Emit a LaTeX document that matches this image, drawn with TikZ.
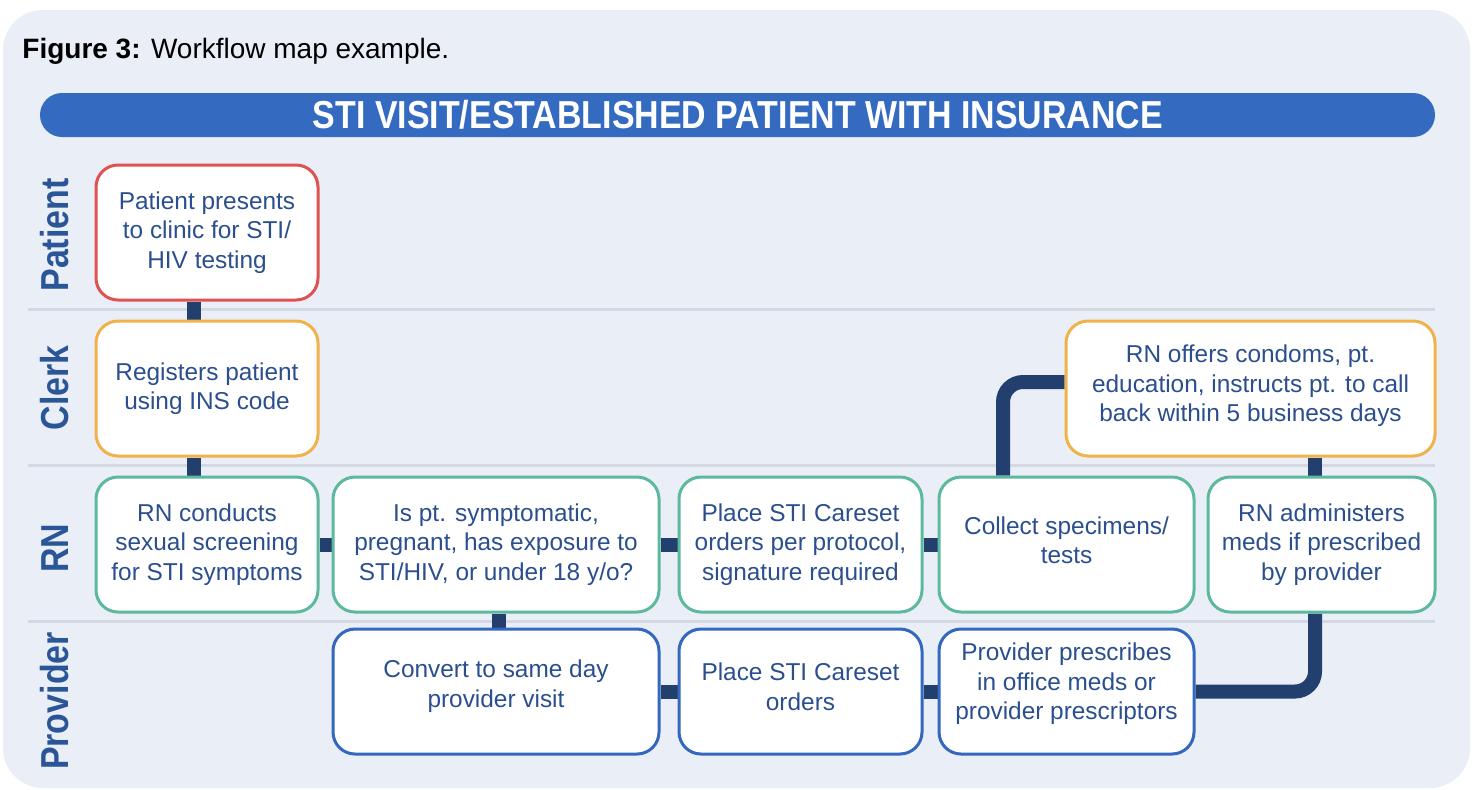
\documentclass[tikz,border=0pt]{standalone}
\usepackage{fontspec}
\setmainfont{Liberation Sans}
\newfontfamily\headfont[FakeStretch=0.87]{Liberation Sans}

\definecolor{panelbg}{HTML}{EAEEF7}
\definecolor{lanerule}{HTML}{D3D8E2}
\definecolor{barblue}{HTML}{346BC0}
\definecolor{linknavy}{HTML}{223F6E}
\definecolor{txtnavy}{HTML}{2B4F8E}
\definecolor{lanelbl}{HTML}{2A5597}
\definecolor{patred}{HTML}{E05252}
\definecolor{clerkorange}{HTML}{F1B24A}
\definecolor{rnteal}{HTML}{5CB99D}
\definecolor{provblue}{HTML}{3467BE}

\pgfdeclarelayer{panel}
\pgfdeclarelayer{links}
\pgfsetlayers{panel,links,main}

% invisible depth that lifts the text block a little inside its box
\newcommand{\liftby}[1]{\rule[-#1]{0pt}{#1}}

\tikzset{
  stepbox/.style={draw=#1, line width=1.5pt, fill=white, rounded corners=11pt,
    align=center, text=txtnavy, inner sep=0pt,
    font=\fontsize{12.2pt}{14.8pt}\selectfont},
  tall/.style={minimum height=67.5pt},
  short/.style={minimum height=62.5pt},
  link/.style={draw=linknavy, line width=7pt, rounded corners=10pt},
  lanetext/.style={rotate=90, text=lanelbl, font=\headfont\bfseries\fontsize{19.5pt}{20pt}\selectfont},
  lanesep/.style={draw=lanerule, line width=1.5pt}
}

\begin{document}
\begin{tikzpicture}[x=0.5pt, y=-0.5pt]
  \useasboundingbox (0,0) rectangle (1475,789);

  \begin{pgfonlayer}{panel}
    % background panel
    \fill[white] (0,0) rectangle (1475,789);
    \fill[panelbg, rounded corners=20pt] (3,10) rectangle (1470,788);
    % title bar
    \fill[barblue, rounded corners=11pt] (40,93) rectangle (1435,137);
    % swimlane separators
    \draw[lanesep] (28,309) -- (1435,309);
    \draw[lanesep] (28,465) -- (1435,465);
    \draw[lanesep] (28,621) -- (1435,621);
  \end{pgfonlayer}

  % caption and title
  \node[anchor=base west, inner sep=0pt, font=\fontsize{14pt}{16pt}\selectfont] (cap) at (22,58)
    {\textbf{Figure 3:} Workflow map example.};
  \node[text=white, font=\headfont\bfseries\fontsize{19.5pt}{20pt}\selectfont] (title) at (738,115)
    {STI VISIT/ESTABLISHED PATIENT WITH INSURANCE};

  % lane labels
  \node[lanetext] (lpat) at (55,235) {Patient};
  \node[lanetext] (lclk) at (55,388) {Clerk};
  \node[lanetext] (lrn)  at (55,548) {RN};
  \node[lanetext] (lprv) at (55,701) {Provider};

  % process steps
  \node[stepbox=patred, tall, minimum width=111pt] (p1) at (207,232.5)
    {Patient presents\\to clinic for STI/\\HIV testing};
  \node[stepbox=clerkorange, tall, minimum width=111pt] (c1) at (207,388.5)
    {Registers patient\\using INS code};
  \node[stepbox=clerkorange, tall, minimum width=184.5pt] (c2) at (1250.5,388.5)
    {RN offers condoms, pt.\\education, instructs pt. to call\\back within 5 business days\liftby{5pt}};
  \node[stepbox=rnteal, tall, minimum width=111pt] (r1) at (207,544.5)
    {RN conducts\\sexual screening\\for STI symptoms};
  \node[stepbox=rnteal, tall, minimum width=163pt] (r2) at (496,544.5)
    {Is pt. symptomatic,\\pregnant, has exposure to\\STI/HIV, or under 18 y/o?};
  \node[stepbox=rnteal, tall, minimum width=121.5pt] (r3) at (800.5,544.5)
    {Place STI Careset\\orders per protocol,\\signature required};
  \node[stepbox=rnteal, tall, minimum width=127.5pt] (r4) at (1066.5,544.5)
    {Collect specimens/\\tests\liftby{4.5pt}};
  \node[stepbox=rnteal, tall, minimum width=113.5pt] (r5) at (1321.5,544.5)
    {RN administers\\meds if prescribed\\by provider};
  \node[stepbox=provblue, short, minimum width=163pt] (v1) at (496,691.5)
    {Convert to same day\\provider visit\liftby{7.6pt}};
  \node[stepbox=provblue, short, minimum width=121.5pt] (v2) at (800.5,691.5)
    {Place STI Careset\\orders\liftby{5pt}};
  \node[stepbox=provblue, short, minimum width=127.5pt] (v3) at (1066.5,691.5)
    {Provider prescribes\\in office meds or\\provider prescriptors\liftby{10pt}};

  % connectors, kept behind the steps
  \begin{pgfonlayer}{links}
    \draw[link] ([xshift=-6.5pt]p1.south) -- ([xshift=-6.5pt]c1.north);
    \draw[link] ([xshift=-6.5pt]c1.south) -- ([xshift=-6.5pt]r1.north);
    \draw[link] (r1.east) -- (r2.west);
    \draw[link] (r2.east) -- (r3.west);
    \draw[link] (r3.east) -- (r4.west);
    \draw[link] ([xshift=1.5pt]r2.south) -- ([xshift=1.5pt]r2.south |- v1.north);
    \draw[link] (v1.east) -- (v2.west);
    \draw[link] (v2.east) -- (v3.west);
    \draw[link] (v3.east) -| ([xshift=-3.25pt]r5.south);
    \draw[link] ([xshift=-3.25pt]r5.north) -- ([xshift=-3.25pt]r5.north |- c2.south);
    \draw[link] (r4.north -| 1003,0) |- (c2.west |- 0,382);
  \end{pgfonlayer}
\end{tikzpicture}
\end{document}
